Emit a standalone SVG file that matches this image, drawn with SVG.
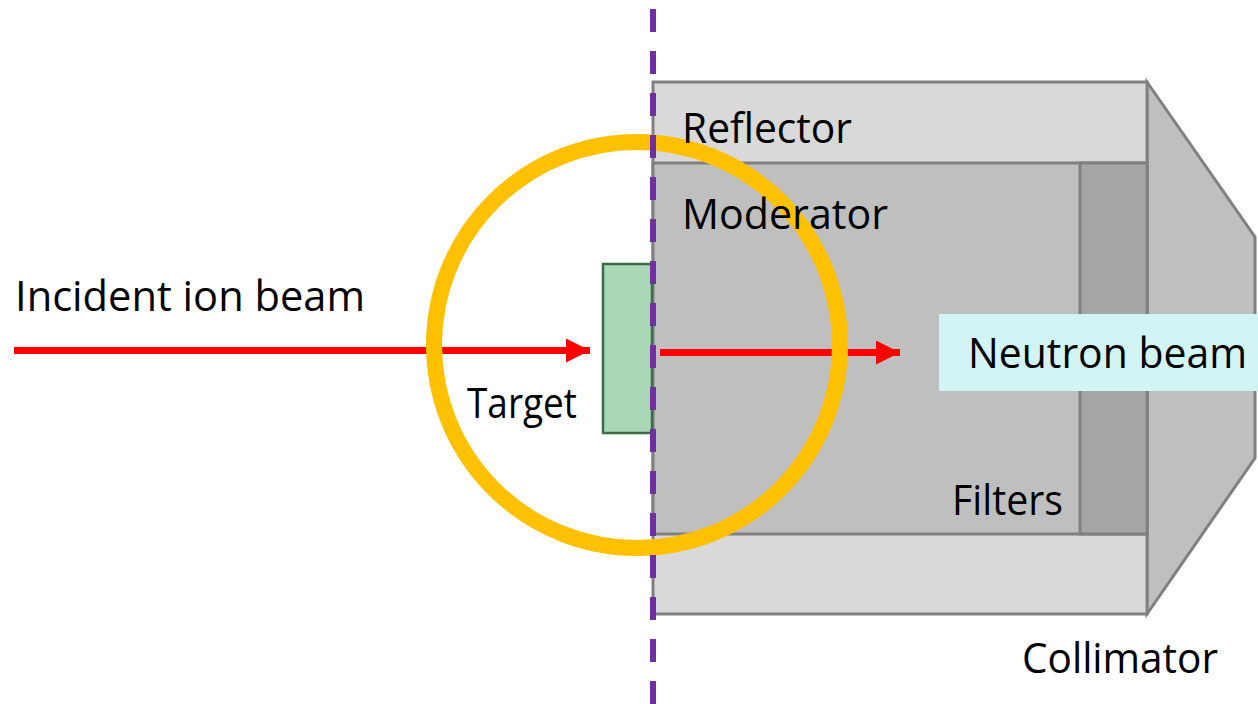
<svg xmlns="http://www.w3.org/2000/svg" width="1258" height="704" viewBox="0 0 1258 704">
<style>
text{font-family:"Open Sans","Noto Sans","Liberation Sans",sans-serif;font-size:42px;fill:#000}
.box{stroke:#808080;stroke-width:3}
.beam{stroke:#ff0000;stroke-width:7;fill:none}
</style>
<defs>
<marker id="ah" markerUnits="userSpaceOnUse" markerWidth="26" markerHeight="24" refX="24" refY="12" orient="auto">
<path d="M0,0 L24,12 L0,24 Z" fill="#ff0000"/>
</marker>
</defs>
<g id="collimator">
<polygon class="box" points="1147,82 1255,237 1255,458 1147,614" fill="#bfbfbf"/>
</g>
<g id="reflector">
<rect class="box" x="653" y="82" width="494" height="532" fill="#d9d9d9"/>
</g>
<g id="moderator">
<rect class="box" x="653" y="163" width="494" height="371" fill="#bfbfbf"/>
</g>
<g id="filters">
<rect class="box" x="1080" y="163" width="67" height="371" fill="#a6a6a6"/>
</g>
<g id="neutron-label">
<rect x="939" y="314" width="319" height="77" fill="#d3f4f5"/>
</g>
<g id="target">
<rect x="603" y="264" width="49" height="169" fill="#a9d8b7" stroke="#3b6b47" stroke-width="2.5"/>
</g>
<g id="connectors">
<line class="beam" x1="14" y1="350.5" x2="590" y2="350.5" marker-end="url(#ah)"/>
<line class="beam" x1="660" y1="352.5" x2="900" y2="352.5" marker-end="url(#ah)"/>
</g>
<g id="interaction-zone">
<circle cx="637" cy="345" r="203" fill="none" stroke="#ffc000" stroke-width="16"/>
</g>
<g id="boundary">
<line x1="653" y1="9" x2="653" y2="704" stroke="#7030a0" stroke-width="6" stroke-dasharray="23 19"/>
</g>
<g id="labels">
<text x="15" y="311" textLength="350" lengthAdjust="spacingAndGlyphs">Incident ion beam</text>
<text x="682" y="143" textLength="170" lengthAdjust="spacingAndGlyphs">Reflector</text>
<text x="682" y="229" textLength="206" lengthAdjust="spacingAndGlyphs">Moderator</text>
<text x="467" y="418" textLength="110" lengthAdjust="spacingAndGlyphs">Target</text>
<text x="968" y="368" textLength="279" lengthAdjust="spacingAndGlyphs">Neutron beam</text>
<text x="952" y="515" textLength="111" lengthAdjust="spacingAndGlyphs">Filters</text>
<text x="1022" y="673" textLength="196" lengthAdjust="spacingAndGlyphs">Collimator</text>
</g>
</svg>
